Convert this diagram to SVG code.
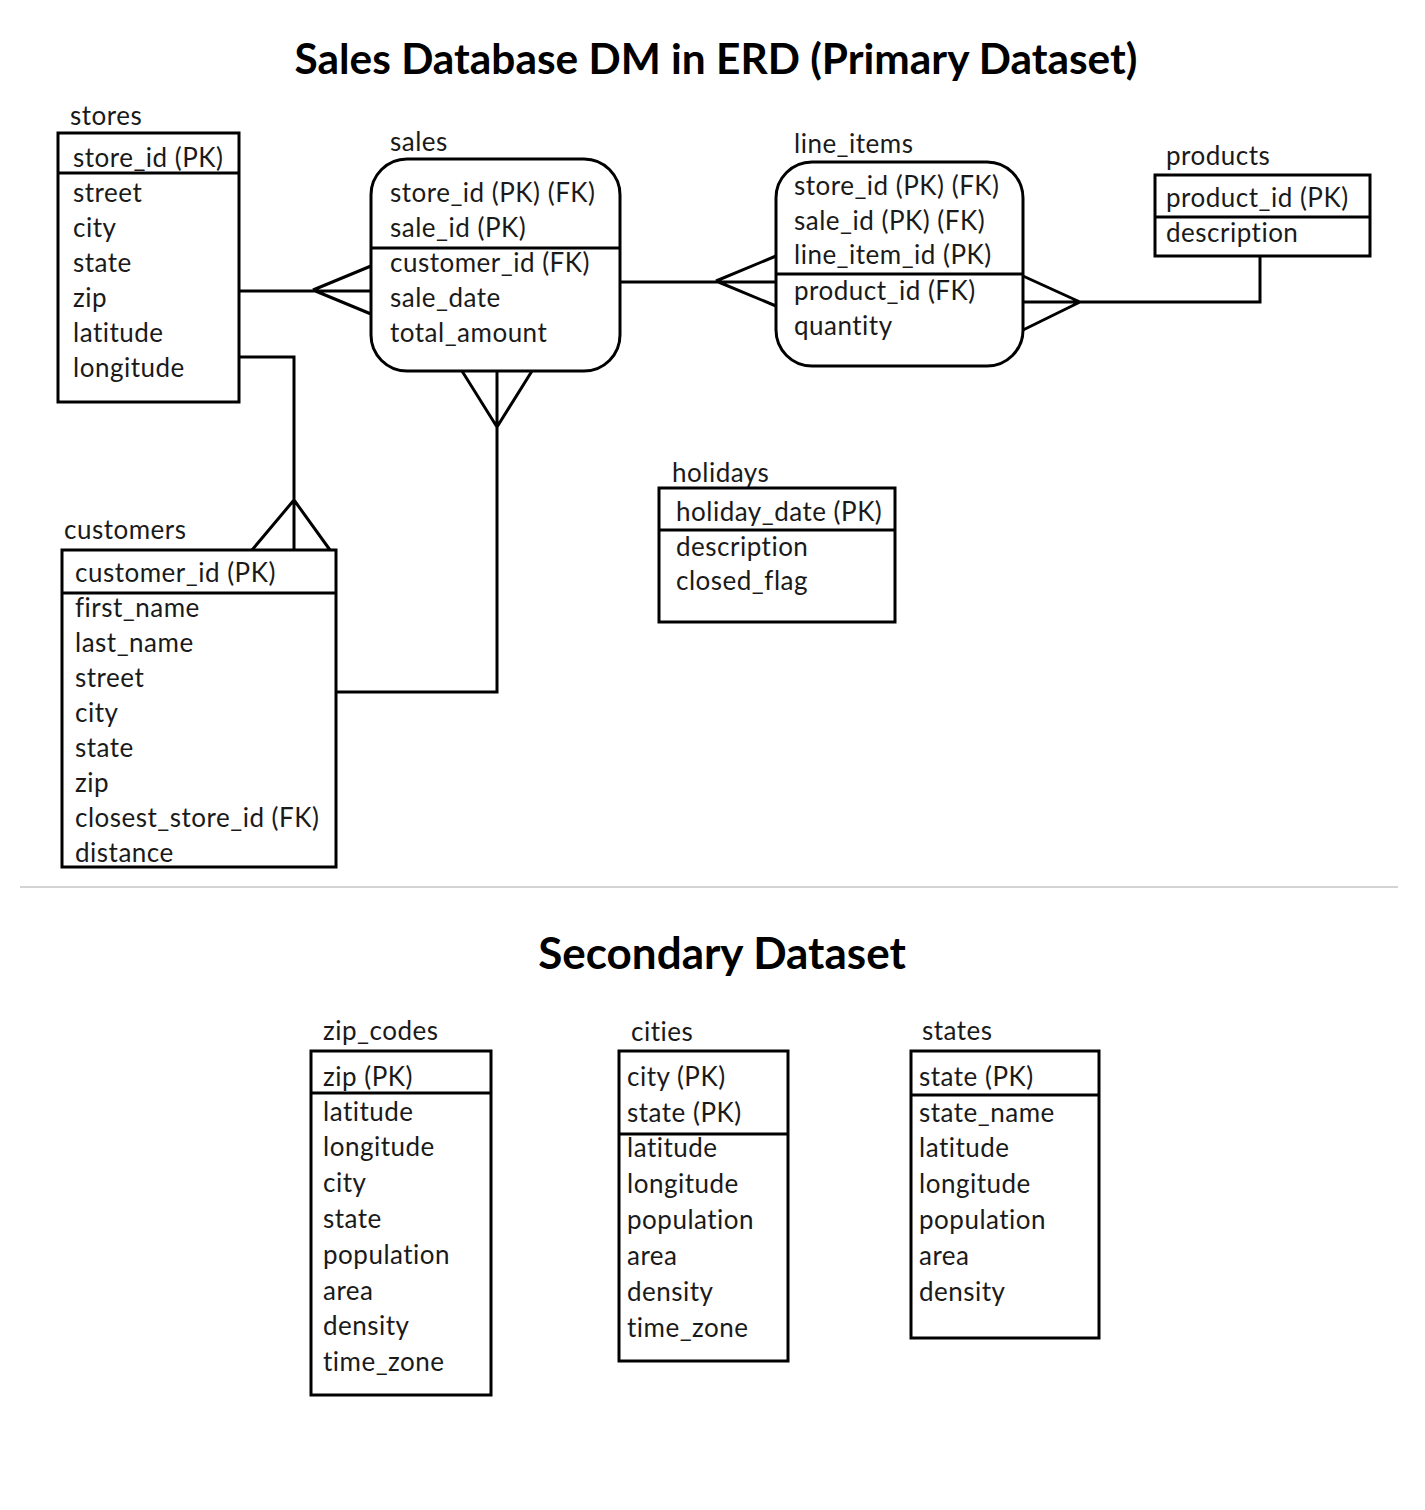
<svg xmlns="http://www.w3.org/2000/svg" width="1425" height="1510" viewBox="0 0 1425 1510">
<style>
text{font-family:Lato,"Open Sans","Noto Sans",sans-serif;fill:#1a1a1a}
.t{font-size:26px;letter-spacing:0.5px}
.h{font-size:44px;font-weight:bold;text-anchor:middle;fill:#000}
.b{fill:#fff;stroke:#000;stroke-width:3}
.d{stroke:#000;stroke-width:3}
.c{fill:none;stroke:#000;stroke-width:3}
</style>
<rect width="1425" height="1510" fill="#fff"/>
<text class="h" x="716" y="74" style="font-size:42.4px">Sales Database DM in ERD (Primary Dataset)</text>

<g id="stores">
<text class="t" x="70" y="125">stores</text>
<rect class="b" x="58" y="133" width="181" height="269"/>
<line class="d" x1="58" y1="173" x2="239" y2="173"/>
<text class="t" x="73" y="167">store_id (PK)</text>
<text class="t" x="73" y="202">street</text>
<text class="t" x="73" y="237">city</text>
<text class="t" x="73" y="272">state</text>
<text class="t" x="73" y="307">zip</text>
<text class="t" x="73" y="342">latitude</text>
<text class="t" x="73" y="377">longitude</text>
</g>

<g id="sales">
<text class="t" x="390" y="151">sales</text>
<rect class="b" x="371" y="159" width="249" height="212" rx="36"/>
<line class="d" x1="371" y1="248" x2="620" y2="248"/>
<text class="t" x="390" y="202">store_id (PK) (FK)</text>
<text class="t" x="390" y="237">sale_id (PK)</text>
<text class="t" x="390" y="272">customer_id (FK)</text>
<text class="t" x="390" y="307">sale_date</text>
<text class="t" x="390" y="342">total_amount</text>
</g>

<g id="line_items">
<text class="t" x="794" y="153">line_items</text>
<rect class="b" x="776" y="162" width="247" height="204" rx="36"/>
<line class="d" x1="776" y1="274" x2="1023" y2="274"/>
<text class="t" x="794" y="195">store_id (PK) (FK)</text>
<text class="t" x="794" y="230">sale_id (PK) (FK)</text>
<text class="t" x="794" y="264">line_item_id (PK)</text>
<text class="t" x="794" y="300">product_id (FK)</text>
<text class="t" x="794" y="335">quantity</text>
</g>

<g id="products">
<text class="t" x="1166" y="165">products</text>
<rect class="b" x="1155" y="175" width="215" height="81"/>
<line class="d" x1="1155" y1="217" x2="1370" y2="217"/>
<text class="t" x="1166" y="207">product_id (PK)</text>
<text class="t" x="1166" y="242">description</text>
</g>

<g id="holidays">
<text class="t" x="672" y="482">holidays</text>
<rect class="b" x="659" y="488" width="236" height="134"/>
<line class="d" x1="659" y1="530" x2="895" y2="530"/>
<text class="t" x="676" y="521">holiday_date (PK)</text>
<text class="t" x="676" y="556">description</text>
<text class="t" x="676" y="590">closed_flag</text>
</g>

<g id="customers">
<text class="t" x="64" y="539">customers</text>
<rect class="b" x="62" y="550" width="274" height="317"/>
<line class="d" x1="62" y1="593" x2="336" y2="593"/>
<text class="t" x="75" y="582">customer_id (PK)</text>
<text class="t" x="75" y="617">first_name</text>
<text class="t" x="75" y="652">last_name</text>
<text class="t" x="75" y="687">street</text>
<text class="t" x="75" y="722">city</text>
<text class="t" x="75" y="757">state</text>
<text class="t" x="75" y="792">zip</text>
<text class="t" x="75" y="827">closest_store_id (FK)</text>
<text class="t" x="75" y="862">distance</text>
</g>

<g id="connectors">
<path class="c" d="M239 291 H371 M313 290 L371 266 M313 290 L371 314"/>
<path class="c" d="M239 357 H294 V550 M294 500 L252 550 M294 500 L330 550"/>
<path class="c" d="M336 692 H497 V371 M497 427 L462 371 M497 427 L532 371"/>
<path class="c" d="M620 282 H776 M716 281 L776 256 M716 281 L776 306"/>
<path class="c" d="M1023 302 H1260 V256 M1080 302 L1023 276 M1080 302 L1023 330"/>
</g>

<line x1="20" y1="887" x2="1398" y2="887" stroke="#d4d4d4" stroke-width="2"/>
<text class="h" x="722" y="969">Secondary Dataset</text>

<g id="zip_codes">
<text class="t" x="323" y="1040">zip_codes</text>
<rect class="b" x="311" y="1051" width="180" height="344"/>
<line class="d" x1="311" y1="1093" x2="491" y2="1093"/>
<text class="t" x="323" y="1086">zip (PK)</text>
<text class="t" x="323" y="1121">latitude</text>
<text class="t" x="323" y="1156">longitude</text>
<text class="t" x="323" y="1192">city</text>
<text class="t" x="323" y="1228">state</text>
<text class="t" x="323" y="1264">population</text>
<text class="t" x="323" y="1300">area</text>
<text class="t" x="323" y="1335">density</text>
<text class="t" x="323" y="1371">time_zone</text>
</g>

<g id="cities">
<text class="t" x="631" y="1041">cities</text>
<rect class="b" x="619" y="1051" width="169" height="310"/>
<line class="d" x1="619" y1="1134" x2="788" y2="1134"/>
<text class="t" x="627" y="1086">city (PK)</text>
<text class="t" x="627" y="1122">state (PK)</text>
<text class="t" x="627" y="1157">latitude</text>
<text class="t" x="627" y="1193">longitude</text>
<text class="t" x="627" y="1229">population</text>
<text class="t" x="627" y="1265">area</text>
<text class="t" x="627" y="1301">density</text>
<text class="t" x="627" y="1337">time_zone</text>
</g>

<g id="states">
<text class="t" x="922" y="1040">states</text>
<rect class="b" x="911" y="1051" width="188" height="287"/>
<line class="d" x1="911" y1="1095" x2="1099" y2="1095"/>
<text class="t" x="919" y="1086">state (PK)</text>
<text class="t" x="919" y="1122">state_name</text>
<text class="t" x="919" y="1157">latitude</text>
<text class="t" x="919" y="1193">longitude</text>
<text class="t" x="919" y="1229">population</text>
<text class="t" x="919" y="1265">area</text>
<text class="t" x="919" y="1301">density</text>
</g>
</svg>
